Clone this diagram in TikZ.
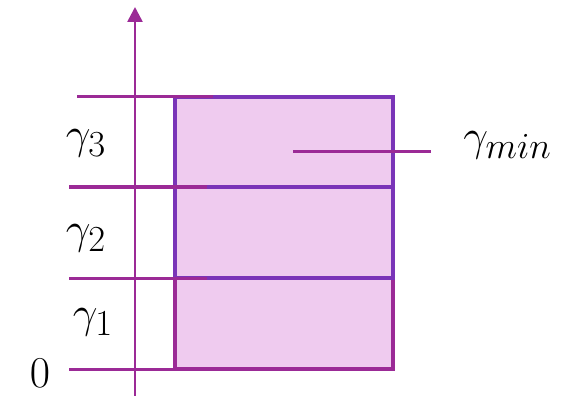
\documentclass[tikz,border=0pt]{standalone}
\usepackage{amsmath,amssymb}
\usepackage{tikz}
\usetikzlibrary{arrows.meta}

\definecolor{axiscol}{RGB}{155,42,150}
\definecolor{boxcol}{RGB}{122,52,184}
\definecolor{fillcol}{RGB}{239,203,239}

\tikzset{
  levelline/.style={axiscol, line width=3pt},
  cellbox/.style={boxcol, line width=3.5pt},
  lbl/.style={inner sep=0pt, font=\Huge, scale=1.77, transform shape}
}

\begin{document}
\begin{tikzpicture}[x=1pt,y=-1pt]
\useasboundingbox (0,0) rectangle (582,396);

% shaded cells
\fill[fillcol] (175,97) rectangle (393,369);
\draw[axiscol, line width=3.5pt] (175,278) rectangle (393,369);
\draw[cellbox] (175,187) rectangle (393,278);
\draw[cellbox] (175,97) rectangle (393,187);

% axis
\draw[axiscol, line width=2.6pt, -{Triangle[length=15pt,width=15pt]}] (135,396) -- (135,7);

% level lines
\draw[levelline] (77,97) -- (213,97);
\draw[levelline] (69,187) -- (207,187);
\draw[levelline] (69,278) -- (207,278);
\draw[levelline] (69,369) -- (305,369);

% labels
\node[lbl] (g3) at (86,143) {$\gamma_3$};
\node[lbl] (g2) at (86,238) {$\gamma_2$};
\node[lbl] (g1) at (93,322) {$\gamma_1$};
\node[lbl] (zero) at (40,373) {$0$};
\node[lbl, anchor=west] (gmin) at (463,145) {$\gamma_{min}$};

% leader to gamma_min
\coordinate (lead) at (293,152);
\coordinate (leadend) at (431,152);
\draw[levelline] (lead) -- (leadend);
\end{tikzpicture}
\end{document}
